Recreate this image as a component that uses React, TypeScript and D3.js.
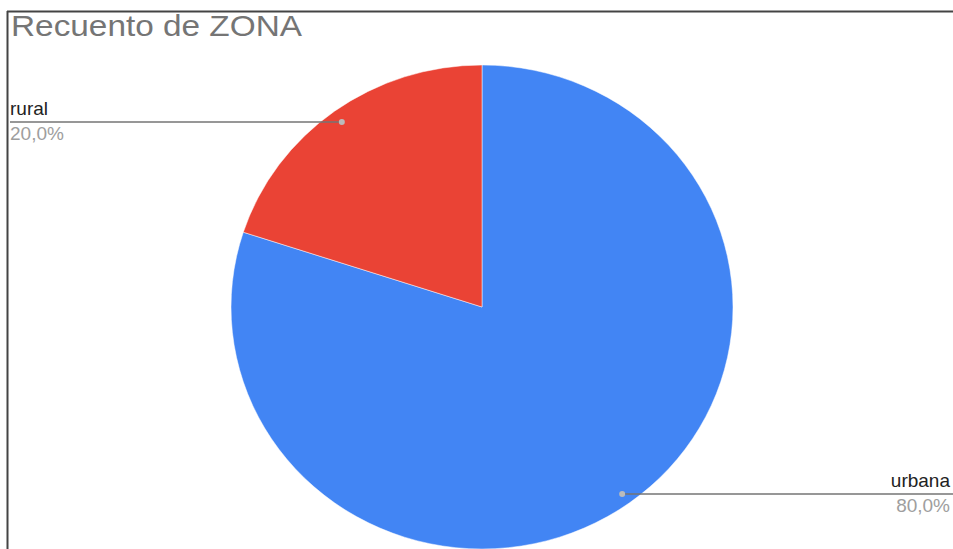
import React, { useEffect, useRef } from 'react'
import * as d3 from 'd3'

const categories = ['urbana', 'rural']
const counts = [80, 20]
const percentLabels = ['80,0%', '20,0%']
const colors = ['#4285f4', '#ea4335']
const title = 'Recuento de ZONA'

export default function App() {
    const ref = useRef<SVGSVGElement | null>(null)

    const width = 953
    const height = 549
    const cx = 482
    const cy = 307
    const rx = 251
    const ry = 242

    function drawPie() {
        const svg = d3.select(ref.current)
        svg.selectAll('*').remove()
        svg.attr('width', width).attr('height', height)

        svg.append('rect').attr('width', width).attr('height', height).attr('fill', '#fff')

        // frame (top + left edge)
        svg.append('line')
            .attr('x1', 7).attr('x2', width).attr('y1', 11.5).attr('y2', 11.5)
            .attr('stroke', '#444').attr('stroke-width', 2)
        svg.append('line')
            .attr('x1', 7.5).attr('x2', 7.5).attr('y1', 11).attr('y2', height)
            .attr('stroke', '#444').attr('stroke-width', 2)

        svg.append('text')
            .attr('x', 11).attr('y', 36)
            .attr('font-family', 'Liberation Sans, Arial, sans-serif')
            .attr('font-size', 29)
            .attr('textLength', 291)
            .attr('lengthAdjust', 'spacingAndGlyphs')
            .attr('fill', '#757575')
            .text(title)

        const data = categories.map((c, i) => ({ name: c, value: counts[i], pct: percentLabels[i], color: colors[i] }))
        const pie = d3.pie<any>().value((d: any) => d.value).sort(null)
        const arcs = pie(data)
        const arc = d3.arc<any>().innerRadius(0).outerRadius(rx)

        const g = svg.append('g')
            .attr('transform', 'translate(' + cx + ',' + cy + ') scale(1,' + (ry / rx) + ')')
        g.selectAll('path')
            .data(arcs)
            .enter().append('path')
            .attr('d', arc as any)
            .attr('fill', (d: any) => d.data.color)
            .attr('stroke', '#fff')
            .attr('stroke-width', 0.5)

        // leader lines + labels
        arcs.forEach((d: any) => {
            const mid = (d.startAngle + d.endAngle) / 2
            const px = cx + 0.95 * rx * Math.sin(mid)
            const py = cy - 0.95 * ry * Math.cos(mid)
            const left = Math.sin(mid) < 0
            const x2 = left ? 10 : width
            svg.append('line')
                .attr('x1', px).attr('x2', x2).attr('y1', py + 1).attr('y2', py + 1)
                .attr('stroke', '#757575').attr('stroke-width', 1.5)
            svg.append('circle')
                .attr('cx', px).attr('cy', py + 1).attr('r', 3)
                .attr('fill', '#bbb')
            const tx = left ? 10 : width - 3
            const anchor = left ? 'start' : 'end'
            svg.append('text')
                .attr('x', tx).attr('y', py - 6)
                .attr('text-anchor', anchor)
                .attr('font-family', 'Liberation Sans, Arial, sans-serif')
                .attr('font-size', 19)
                .attr('fill', '#222')
                .text(d.data.name)
            svg.append('text')
                .attr('x', tx).attr('y', py + 19)
                .attr('text-anchor', anchor)
                .attr('font-family', 'Liberation Sans, Arial, sans-serif')
                .attr('font-size', 19)
                .attr('fill', '#9e9e9e')
                .text(d.data.pct)
        })
    }

    useEffect(() => {
        drawPie()
    }, [])

    return (
        <div>
            <svg ref={ref} style={{ position: 'absolute', left: 0, top: 0 }} />
        </div>
    )
}
